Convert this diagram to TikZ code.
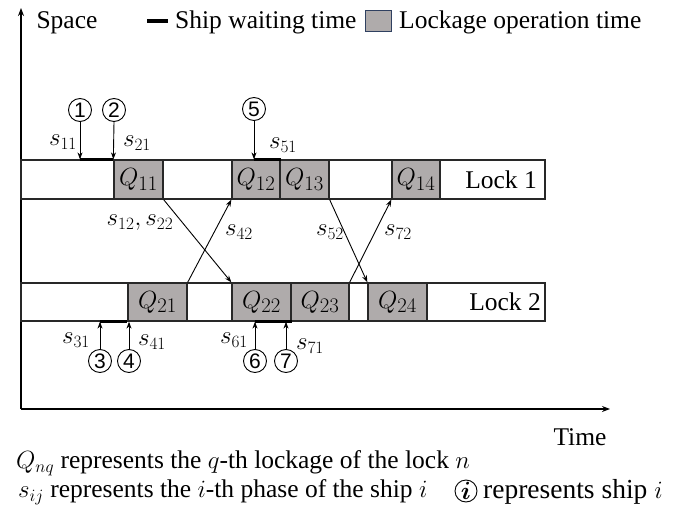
\documentclass[tikz,border=0pt]{standalone}
\usepackage{bm}
\usepackage{fontspec}
\setmainfont{Liberation Serif}
\newfontfamily\digitfont{Liberation Sans}
\usetikzlibrary{arrows.meta}
\definecolor{opgray}{RGB}{175,171,171}
\definecolor{boxedge}{RGB}{47,64,96}
\definecolor{edgegray}{RGB}{40,40,40}
\begin{document}
\begin{tikzpicture}[x=1pt,y=-1pt,
  every node/.style={font=\fontsize{25.5}{28}\selectfont, inner sep=0pt},
  band/.style={draw=edgegray, line width=1.3pt, fill=white, minimum height=39pt},
  opbox/.style={draw=edgegray, line width=1.3pt, fill=opgray, minimum height=39pt, font=\fontsize{28}{29}\selectfont},
  ship/.style={circle, draw, line width=0.9pt, minimum size=23pt, font=\digitfont\fontsize{21}{22}\selectfont},
  conn/.style={line width=0.9pt, -{Stealth[length=7pt,width=5pt]}},
  waitbar/.style={line width=3.5pt},
  lab/.style={font=\fontsize{26}{28}\selectfont},
  axisline/.style={line width=1.6pt, -{Stealth[length=8pt,width=6pt]}}
]
\useasboundingbox (0,0) rectangle (682,508);

% axes
\coordinate (O) at (21,409);
\coordinate (ytop) at (21,8);
\coordinate (xend) at (610,409);
\draw[axisline] (O) -- (ytop);
\draw[axisline] (O) -- (xend);
\node (space) at (67,23) {Space};
\node (time) at (580,437) {Time};

% legend
\coordinate (lw1) at (147,21);
\coordinate (lw2) at (168,21);
\draw[waitbar] (lw1) -- (lw2);
\node[anchor=west] (lwt) at (175,22) {Ship waiting time};
\node[draw=boxedge, line width=1pt, fill=opgray, minimum width=26pt, minimum height=21pt] (lbox) at (378,21.5) {};
\node[anchor=west] (lbt) at (399,22) {Lockage operation time};

% lock 1
\node[band, minimum width=524pt] (L1) at (283,179.5) {};
\node[opbox, minimum width=49pt] (Q11) at (138.5,179.5) {$Q_{11}$};
\node[opbox, minimum width=48pt] (Q12) at (256,179.5) {$Q_{12}$};
\node[opbox, minimum width=49pt] (Q13) at (304.5,179.5) {$Q_{13}$};
\node[opbox, minimum width=48pt] (Q14) at (416,179.5) {$Q_{14}$};
\node[anchor=east] (lk1) at (537,180) {Lock 1};

% lock 2
\node[band, minimum width=524pt, minimum height=38pt] (L2) at (283,302) {};
\node[opbox, minimum width=59pt, minimum height=38pt] (Q21) at (157.5,302) {$Q_{21}$};
\node[opbox, minimum width=59pt, minimum height=38pt] (Q22) at (261.5,302) {$Q_{22}$};
\node[opbox, minimum width=58pt, minimum height=38pt] (Q23) at (320,302) {$Q_{23}$};
\node[opbox, minimum width=59pt, minimum height=38pt] (Q24) at (397.5,302) {$Q_{24}$};
\node[anchor=east] (lk2) at (541,302) {Lock 2};

% ships entering lock 1
\node[ship] (c1) at (80,110) {1};
\node[ship] (c2) at (114,110) {2};
\node[ship] (c5) at (254,109) {5};
\draw[waitbar] (c1.south |- L1.north) -- (Q11.north west);
\draw[waitbar] (Q12.north west -| c5.south) -- (Q12.north east);
\draw[conn] (c1.south) -- (c1.south |- L1.north);
\draw[conn] (c2.south) -- (Q11.north west);
\draw[conn] (c5.south) -- (c5.south |- L1.north);
\node[lab] (s11) at (63,142) {$s_{11}$};
\node[lab] (s21) at (137,143) {$s_{21}$};
\node[lab] (s51) at (283,145) {$s_{51}$};

% ships entering lock 2
\node[ship] (c3) at (100,361) {3};
\node[ship] (c4) at (129,361) {4};
\node[ship] (c6) at (255,361) {6};
\node[ship] (c7) at (286,361) {7};
\draw[waitbar] (c3.north |- L2.south) -- (Q21.south west);
\draw[waitbar] (Q22.south west -| c6.north) -- (Q22.south east);
\draw[conn] (c3.north) -- (c3.north |- L2.south);
\draw[conn] (c4.north) -- (c4.north |- L2.south);
\draw[conn] (c6.north) -- (c6.north |- L2.south);
\draw[conn] (c7.north) -- (c7.north |- L2.south);
\node[lab] (s31) at (76,340) {$s_{31}$};
\node[lab] (s41) at (152,342) {$s_{41}$};
\node[lab] (s61) at (234,340) {$s_{61}$};
\node[lab] (s71) at (310,346) {$s_{71}$};

% transfers between the locks
\draw[conn] (Q11.south east) -- (Q22.north west);
\draw[conn] (Q21.north east) -- (Q12.south west);
\draw[conn] (Q13.south east) -- (Q24.north west);
\draw[conn] (Q23.north east) -- (Q14.south west);
\node[lab] (s1222) at (140,223) {$s_{12},s_{22}$};
\node[lab] (s42) at (239,232) {$s_{42}$};
\node[lab] (s52) at (330,232) {$s_{52}$};
\node[lab] (s72) at (398,232) {$s_{72}$};

% notation
\node[anchor=west] (nq) at (16,463) {$Q_{nq}$ represents the $q$-th lockage of the lock $n$};
\node[anchor=west] (nij) at (18,492) {$s_{ij}$ represents the $i$-th phase of the ship $i$};
\node[circle, draw, line width=0.9pt, minimum size=22pt, font=\fontsize{27}{28}\selectfont] (ci) at (466,491) {$\bm{i}$};
\node[anchor=west, font=\fontsize{27.5}{29}\selectfont] (nship) at (483,492) {represents ship $i$};
\end{tikzpicture}
\end{document}
